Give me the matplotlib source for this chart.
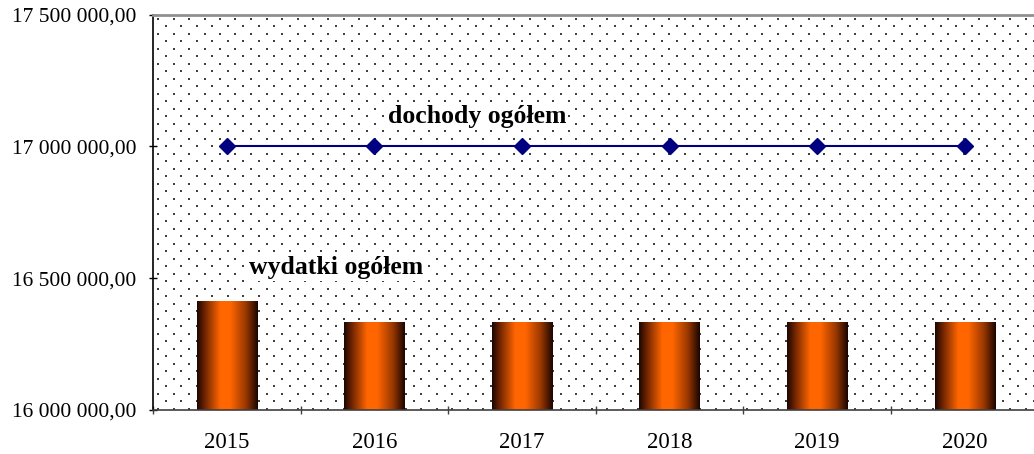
import numpy as np
import matplotlib
matplotlib.use("Agg")
import matplotlib.pyplot as plt
from matplotlib.colors import LinearSegmentedColormap
from matplotlib.ticker import FuncFormatter

years = ["2015", "2016", "2017", "2018", "2019", "2020"]
wydatki = [16413000, 16334000, 16334000, 16334000, 16334000, 16334000]
dochody = [17000000, 17000000, 17000000, 17000000, 17000000, 17000000]
y_ticks = [16000000, 16500000, 17000000, 17500000]

W, H = 1034, 454
fig = plt.figure(figsize=(W / 100, H / 100), dpi=100)
left, right, bottom, top = 153, 1038.6, 410, 14.7
ax = fig.add_axes([left / W, (H - bottom) / H, (right - left) / W, (bottom - top) / H])
ax.set_facecolor("white")

x = np.arange(len(years))

# dotted background pattern
aw, ah = right - left, bottom - top
dx, dy = 15.5, 7.5
pts_x, pts_y = [], []
row = 0
yy = 4.0
while yy < ah:
    off = 5.0 if row % 2 == 0 else 5.0 + dx / 2
    xx = off
    while xx < aw:
        pts_x.append(xx / aw)
        pts_y.append(1 - yy / ah)
        xx += dx
    yy += dy
    row += 1
ax.scatter(pts_x, pts_y, s=2.0, c="#404040", marker="s", linewidths=0,
           transform=ax.transAxes, zorder=0.5)

# bars with horizontal gradient
cmap = LinearSegmentedColormap.from_list(
    "bar", [(0.0, "#1a0600"), (0.12, "#6a2200"), (0.38, "#ff6600"),
            (0.55, "#ff6600"), (0.8, "#9a3800"), (1.0, "#1a0500")])
grad = np.linspace(0, 1, 256).reshape(1, -1)
bw = 0.41
bars = ax.bar(x, wydatki, width=bw, color="none", edgecolor="none", zorder=2)
for b in bars:
    bx = b.get_x()
    im = ax.imshow(grad, cmap=cmap, aspect="auto", zorder=2,
                   extent=[bx, bx + b.get_width(), 16000000, b.get_height()])
    im.set_clip_path(b)
ax.set_xlim(-0.5, len(years) - 0.5)
ax.set_ylim(16000000, 17500000)

# line series
ax.plot(x, dochody, color="#000080", lw=1.5, marker="D", markersize=8,
        markerfacecolor="#000080", markeredgecolor="#000080", zorder=3)

serif = ["Liberation Serif", "DejaVu Serif"]
ax.text(1.695, 17112000, "dochody ogółem", ha="center", va="center",
        fontsize=18.5, fontweight="bold", family=serif, color="black", zorder=4,
        bbox=dict(facecolor="white", edgecolor="none", pad=1))
ax.text(0.74, 16539000, "wydatki ogółem", ha="center", va="center",
        fontsize=18.5, fontweight="bold", family=serif, color="black", zorder=4,
        bbox=dict(facecolor="white", edgecolor="none", pad=1))

# axes styling
ax.spines["right"].set_visible(False)
ax.spines["top"].set_color("#909090")
ax.spines["top"].set_linewidth(2)
ax.spines["left"].set_color("black")
ax.spines["left"].set_linewidth(1.2)
ax.spines["bottom"].set_color("#404040")
ax.spines["bottom"].set_linewidth(1.2)

ax.set_yticks(y_ticks)
ax.yaxis.set_major_formatter(FuncFormatter(
    lambda v, p: f"{v:,.2f}".replace(",", " ").replace(".", ",")))
ax.set_xticks(x)
ax.set_xticklabels(years)
ax.set_xticks(np.arange(-0.5, len(years)), minor=True)
ax.tick_params(axis="x", which="major", length=0, pad=16, labelsize=16.5)
ax.tick_params(axis="x", which="minor", length=6, direction="inout", color="#404040", width=1)
ax.tick_params(axis="y", length=6, direction="inout", color="black", width=1, pad=9, labelsize=15.5)
for lab in ax.get_xticklabels() + ax.get_yticklabels():
    lab.set_family(serif)

fig.savefig("out.png", dpi=100)
